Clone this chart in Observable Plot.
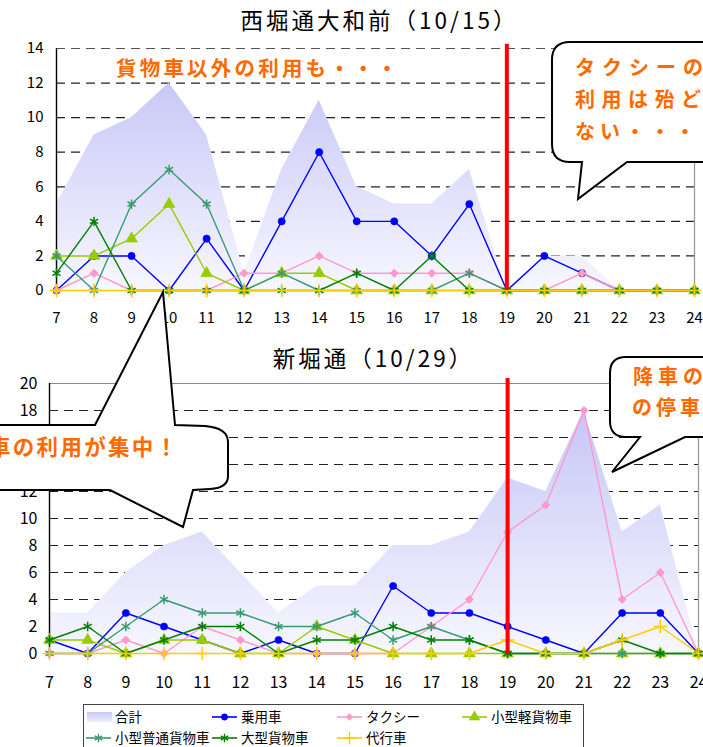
<!DOCTYPE html>
<html>
<head>
<meta charset="utf-8">
<script src="https://cdn.jsdelivr.net/npm/d3@7"></script>
<script src="https://cdn.jsdelivr.net/npm/@observablehq/plot@0.6"></script>
<style>
  html, body { margin: 0; padding: 0; background: #fff; }
  #page { position: relative; width: 703px; height: 747px; overflow: hidden; background: #fff;
          font-family: "Noto Sans CJK JP", "Noto Sans", sans-serif; }
  .chart { position: absolute; left: 0; }
  .title { position: absolute; left: 0; width: 703px; text-align: center; font-size: 22.5px; color: #000;
           letter-spacing: 3px; line-height: 1; white-space: nowrap; }
  #overlay, #legend { position: absolute; left: 0; top: 0; }
</style>
</head>
<body>
<div id="page">
  <div class="title" id="title-top" style="top:8px; left:28px;">西堀通大和前（10/15）</div>
  <div class="title" id="title-bottom" style="top:346px; left:22px;">新堀通（10/29）</div>
</div>
<script>
// Hours of the survey (7時〜24時)
const hours = [7, 8, 9, 10, 11, 12, 13, 14, 15, 16, 17, 18, 19, 20, 21, 22, 23, 24];

// Vehicle types, in drawing order
const seriesNames   = ["乗用車", "タクシー", "小型軽貨物車", "小型普通貨物車", "大型貨物車", "代行車"];
const seriesColors  = ["#0000ff", "#ff99cc", "#99cc00", "#3a9a70", "#008000", "#ffcc00"];
const seriesSymbols = ["circle", "diamond2", "triangle", "asterisk", "asterisk", "plus"];
const totalName = "合計";

// 西堀通大和前 (10/15)
const topTotal        = [5, 9, 10, 12, 9, 1, 7, 11, 6, 5, 5, 7, 0, 2, 2, 0, 0, 0];
const topCar          = [0, 2, 2, 0, 3, 0, 4, 8, 4, 4, 2, 5, 0, 2, 1, 0, 0, 0];
const topTaxi         = [0, 1, 0, 0, 0, 1, 1, 2, 1, 1, 1, 1, 0, 0, 1, 0, 0, 0];
const topLightCargo   = [2, 2, 3, 5, 1, 0, 1, 1, 0, 0, 0, 0, 0, 0, 0, 0, 0, 0];
const topSmallCargo   = [2, 0, 5, 7, 5, 0, 1, 0, 0, 0, 0, 1, 0, 0, 0, 0, 0, 0];
const topLargeCargo   = [1, 4, 0, 0, 0, 0, 0, 0, 1, 0, 2, 0, 0, 0, 0, 0, 0, 0];
const topDaiko        = [0, 0, 0, 0, 0, 0, 0, 0, 0, 0, 0, 0, 0, 0, 0, 0, 0, 0];
const topYTicks       = [0, 2, 4, 6, 8, 10, 12, 14];

// 新堀通 (10/29)
const botTotal        = [3, 3, 6, 8, 9, 6, 3, 5, 5, 8, 8, 9, 13, 12, 18, 9, 11, 0];
const botCar          = [1, 0, 3, 2, 1, 0, 1, 0, 0, 5, 3, 3, 2, 1, 0, 3, 3, 0];
const botTaxi         = [0, 0, 1, 0, 2, 1, 0, 0, 0, 0, 2, 4, 9, 11, 18, 4, 6, 0];
const botLightCargo   = [1, 1, 0, 1, 1, 0, 0, 2, 1, 0, 0, 0, 0, 0, 0, 0, 0, 0];
const botSmallCargo   = [0, 0, 2, 4, 3, 3, 2, 2, 3, 1, 2, 1, 0, 0, 0, 0, 0, 0];
const botLargeCargo   = [1, 2, 0, 1, 2, 2, 0, 1, 1, 2, 1, 1, 0, 0, 0, 1, 0, 0];
const botDaiko        = [0, 0, 0, 0, 0, 0, 0, 0, 0, 0, 0, 0, 1, 0, 0, 1, 2, 0];
const botYTicks       = [0, 2, 4, 6, 8, 10, 12, 14, 16, 18, 20];

// Hour at which the red marker line is drawn
const cutoffHour = 19;

const page = document.getElementById("page");

function dotOptions(k) {
  const sym = seriesSymbols[k], c = seriesColors[k];
  const filled = sym === "circle" || sym === "diamond2" || sym === "triangle";
  return {
    x: "hour", y: "value", symbol: sym,
    r: sym === "circle" ? 3.6 : sym === "diamond2" ? 3.8 : 4.4,
    fill: filled ? c : "none",
    stroke: c,
    strokeWidth: filled ? 0.6 : 1.5
  };
}

function drawPanel(cfg) {
  const rows = hours.map((h, i) => ({hour: h, total: cfg.total[i]}));
  const yMax = cfg.yTicks[cfg.yTicks.length - 1];
  const seriesMarks = cfg.series.flatMap((values, k) => {
    const data = hours.map((h, i) => ({hour: h, value: values[i]}));
    return [
      Plot.line(data, {x: "hour", y: "value", stroke: seriesColors[k], strokeWidth: 1.4}),
      Plot.dot(data, dotOptions(k))
    ];
  });
  const svg = Plot.plot({
    width: 703,
    height: cfg.height,
    marginLeft: cfg.ml, marginRight: cfg.mr, marginTop: cfg.mt, marginBottom: cfg.mb,
    style: {background: "transparent", fontFamily: '"Noto Sans CJK JP", sans-serif', fontSize: cfg.fontSize, color: "#000", overflow: "visible"},
    x: {type: "linear", domain: [hours[0], hours[hours.length - 1]], ticks: hours, tickSize: 0, tickPadding: cfg.xPad, label: null, tickFormat: d => String(d)},
    y: {domain: [0, yMax], ticks: cfg.yTicks, tickSize: 0, tickPadding: cfg.yPad, label: null, tickFormat: d => String(d)},
    marks: [
      Plot.ruleY(cfg.yTicks.filter(v => v > 0 && v < yMax), {stroke: "#222", strokeWidth: 1.2, strokeDasharray: "9,6"}),
      Plot.ruleY([yMax], {stroke: cfg.topBorder, strokeWidth: 1.2, strokeDasharray: cfg.topDash}),
      Plot.areaY(rows, {x: "hour", y: "total", fill: `url(#${cfg.gradId})`}),
      Plot.ruleX([hours[hours.length - 1]], {stroke: "#9a9a9a", strokeWidth: 1.3}),
      Plot.ruleY([0], {stroke: "#777", strokeWidth: 1.2}),
      Plot.ruleX([hours[0]], {stroke: "#000", strokeWidth: 1.4}),
      ...seriesMarks,
      Plot.ruleX([cutoffHour], {y1: 0, y2: yMax + cfg.redExtra, stroke: "#ff0000", strokeWidth: 4})
    ]
  });
  // vertical gradient for the total area, dark at the top of the plot, pale at the baseline
  const defs = d3.select(svg).insert("defs", ":first-child");
  const g = defs.append("linearGradient").attr("id", cfg.gradId)
    .attr("gradientUnits", "userSpaceOnUse")
    .attr("x1", 0).attr("x2", 0)
    .attr("y1", cfg.mt).attr("y2", cfg.height - cfg.mb);
  g.append("stop").attr("offset", "0%").attr("stop-color", "#c0c0f5");
  g.append("stop").attr("offset", "100%").attr("stop-color", "#f7f7ff");
  svg.classList.add("chart");
  svg.style.top = cfg.top + "px";
  svg.style.position = "absolute";
  page.appendChild(svg);
}

drawPanel({
  top: 0, height: 330, ml: 56, mr: 9, mt: 48, mb: 40,
  yTicks: topYTicks, gradId: "grad-top", fontSize: "15px", xPad: 22, yPad: 13,
  total: topTotal,
  series: [topCar, topTaxi, topLightCargo, topSmallCargo, topLargeCargo, topDaiko],
  redExtra: 0.25, topBorder: "#555", topDash: "9,6"
});

drawPanel({
  top: 340, height: 360, ml: 49, mr: 5, mt: 43, mb: 47,
  yTicks: botYTicks, gradId: "grad-bottom", fontSize: "16px", xPad: 23, yPad: 12,
  total: botTotal,
  series: [botCar, botTaxi, botLightCargo, botSmallCargo, botLargeCargo, botDaiko],
  redExtra: 0.37, topBorder: "#888", topDash: null
});

// Legend
(function drawLegend() {
  const svg = d3.select(page).append("svg").attr("id", "legend")
    .attr("width", 703).attr("height", 60)
    .style("top", "695px");
  const defs = svg.append("defs");
  const lg = defs.append("linearGradient").attr("id", "grad-legend").attr("x1", 0).attr("x2", 0).attr("y1", 0).attr("y2", 1);
  lg.append("stop").attr("offset", "0%").attr("stop-color", "#c8c8f6");
  lg.append("stop").attr("offset", "100%").attr("stop-color", "#eeeeff");
  svg.append("rect").attr("x", 83.5).attr("y", 9.5).attr("width", 500).attr("height", 60)
    .attr("fill", "#fff").attr("stroke", "#444").attr("stroke-width", 1);
  const cols = [86, 212, 337, 462], rowsY = [22, 43];
  const symbolTypes = {circle: d3.symbolCircle, diamond2: d3.symbolDiamond2, triangle: d3.symbolTriangle,
                       asterisk: d3.symbolAsterisk, plus: d3.symbolPlus};
  const items = [{name: totalName, k: -1}, ...seriesNames.map((n, k) => ({name: n, k}))];
  items.forEach((it, i) => {
    const x = cols[i % 4], y = rowsY[Math.floor(i / 4)];
    const gItem = svg.append("g");
    if (it.k < 0) {
      gItem.append("rect").attr("x", x + 1).attr("y", y - 5).attr("width", 25).attr("height", 10).attr("fill", "url(#grad-legend)");
    } else {
      const c = seriesColors[it.k], sym = seriesSymbols[it.k];
      const filled = sym === "circle" || sym === "diamond2" || sym === "triangle";
      gItem.append("line").attr("x1", x).attr("x2", x + 25).attr("y1", y).attr("y2", y)
        .attr("stroke", c).attr("stroke-width", 1.6);
      const r = sym === "circle" || sym === "diamond2" ? 3.2 : 4;
      gItem.append("path").attr("transform", `translate(${x + 12.5},${y})`)
        .attr("d", d3.symbol(symbolTypes[sym], r * r * Math.PI)())
        .attr("fill", filled ? c : "none").attr("stroke", c).attr("stroke-width", filled ? 0.5 : 1.4);
    }
    gItem.append("text").attr("x", x + 29).attr("y", y).attr("dy", "0.36em")
      .attr("font-size", 13.5).attr("fill", "#000").text(it.name);
  });
})();

// Speech-bubble annotations
(function drawCallouts() {
  const svg = d3.select(page).append("svg").attr("id", "overlay")
    .attr("width", 703).attr("height", 747);
  const orange = "#ff6a00";
  const bubble = d => svg.append("path").attr("d", d).attr("fill", "#fff")
    .attr("stroke", "#000").attr("stroke-width", 2).attr("stroke-linejoin", "miter");

  // upper right: taxi remark
  bubble("M570,42 L720,42 L720,162 L627,162 L578,199 L582,162 L570,162 Q552,162 552,144 L552,60 Q552,42 570,42 Z");
  // lower left: concentration remark, tails up and down
  bubble("M-10,425 L95,425 L163,292 L175,425 L205,426 Q228,428 228,442 L228,476 Q228,488 210,489 L193,490 L183,527 L110,490 L-10,490 Z");
  // lower right
  bubble("M626,357 L720,357 L720,437 L685,437 L612,472 L640,437 L626,437 Q610,437 610,421 L610,373 Q610,357 626,357 Z");

  const label = (x, y, text, size, spacing) => svg.append("text")
    .attr("x", x).attr("y", y).attr("dy", "0.36em")
    .attr("font-size", size).attr("font-weight", 700).attr("fill", orange)
    .attr("letter-spacing", spacing).text(text);

  label(116, 69, "貨物車以外の利用も・・・", 20.5, 3.2);
  label(575, 68, "タクシーの", 20, 7);
  label(575, 100, "利用は殆ど", 20, 6.5);
  label(575, 132, "ない・・・", 20, 5);
  label(-11, 447, "車の利用が集中！", 21.5, 2.3);
  label(633, 377, "降車の", 20, 5);
  label(632, 408, "の停車", 20, 4);
})();
</script>
</body>
</html>
